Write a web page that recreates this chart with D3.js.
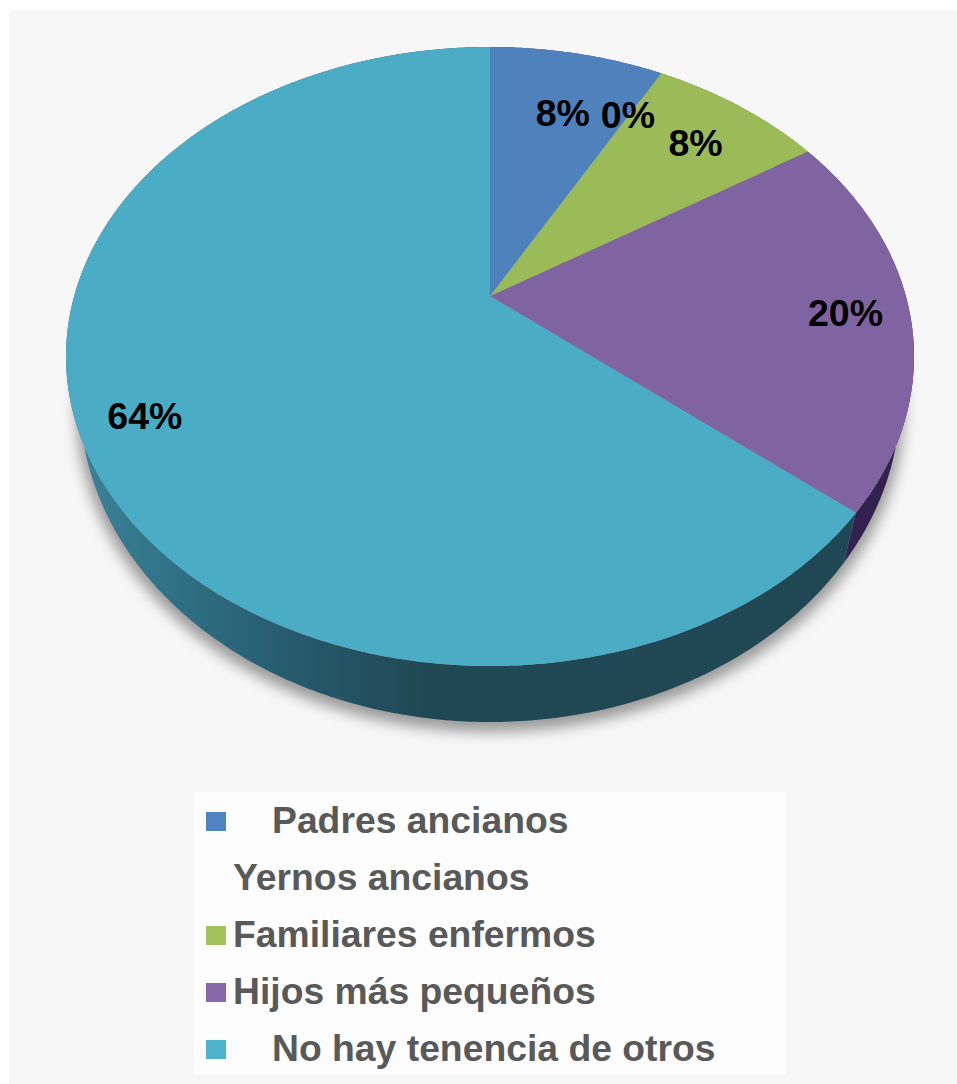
<!DOCTYPE html>
<html>
<head>
<meta charset="utf-8">
<script src="https://cdn.jsdelivr.net/npm/d3@7"></script>
<style>
  html, body { margin: 0; padding: 0; background: #fff; }
  svg { display: block; }
  text { font-family: "Liberation Sans", Arial, sans-serif; font-weight: bold; }
</style>
</head>
<body>
<div id="chart"></div>
<script>
// ---- data ----
var categories = ["Padres ancianos", "Yernos ancianos", "Familiares enfermos", "Hijos más pequeños", "No hay tenencia de otros"];
var percents = [8, 0, 8, 20, 64];

// ---- styles, one per category ----
var sliceColors = ["#4f81bd", "#c0504d", "#9bbb59", "#8064a2", "#4bacc6"];
var wallColors = ["#2c4a6e", "#6e2c2a", "#566a30", "#33214f", "url(#wallGrad)"];
var legendColors = ["#5083c4", null, "#a2c25c", "#8767a8", "#4fb2cf"];
var legendIndent = [true, false, false, false, true];
var labelReach = [0.76, 0.78, 0.8, 0.85, 0.85];
// hand placed nudges, the original labels are not quite on the radius
var labelNudgeX = [4, 0, 1, -1, -1];
var labelNudgeY = [8, -2, 2, 0, 3];

var width = 957, height = 1084;

// top face and bottom edge of the tilted pie
var top_ = { cx: 490, cy: 356.5, rx: 424, ry: 309.5 };
var bottom = { cx: 490, cy: 400, rx: 410, ry: 322 };
// the apex sits above the ellipse centre, a perspective shift
var apexShift = -0.195;

// maps a pie angle and radius (0..1) on the flat disc to the tilted ellipse
function project(e, angle, r) {
  var s = r * Math.sin(angle), t = -r * Math.cos(angle);
  var d = 1 + apexShift * t;
  var u = s * Math.sqrt(1 - apexShift * apexShift) / d;
  var v = (t + apexShift) / d;
  return [e.cx + u * e.rx, e.cy + v * e.ry];
}

function arcPoints(e, a0, a1) {
  var n = Math.max(2, Math.ceil((a1 - a0) / 0.01));
  return d3.range(n + 1).map(function(i) {
    return project(e, a0 + (a1 - a0) * i / n, 1);
  });
}

var line = d3.line();

var svg = d3.select("#chart").append("svg")
  .attr("width", width)
  .attr("height", height);

var defs = svg.append("defs");
defs.append("filter")
  .attr("id", "soft")
  .attr("x", "-10%").attr("y", "-10%").attr("width", "120%").attr("height", "120%")
  .append("feGaussianBlur").attr("stdDeviation", 7);

var grad = defs.append("linearGradient")
  .attr("id", "wallGrad")
  .attr("gradientUnits", "userSpaceOnUse")
  .attr("x1", 80).attr("x2", 900).attr("y1", 0).attr("y2", 0);
[[0, "#3a8299"], [0.12, "#2f7084"], [0.28, "#25586a"], [0.42, "#204854"], [1, "#204854"]].forEach(function(d) {
  grad.append("stop").attr("offset", d[0]).attr("stop-color", d[1]);
});

// panel behind everything
svg.append("rect")
  .attr("x", 9).attr("y", 10)
  .attr("width", width - 9).attr("height", height - 10)
  .attr("fill", "#f7f7f7");

// soft shadow under the pie
svg.append("ellipse")
  .attr("cx", bottom.cx).attr("cy", bottom.cy + 8)
  .attr("rx", bottom.rx + 4).attr("ry", bottom.ry + 2)
  .attr("fill", "#9a9a9a")
  .attr("filter", "url(#soft)");

var pie = d3.pie().sort(null).value(function(d) { return d; });
var slices = pie(percents);

// side wall first, the top face covers whatever is behind
svg.append("g").selectAll("path")
  .data(slices)
  .enter().append("path")
  .attr("d", function(d) {
    var upper = arcPoints(top_, d.startAngle, d.endAngle);
    var lower = arcPoints(bottom, d.startAngle, d.endAngle).reverse();
    return line(upper.concat(lower)) + "Z";
  })
  .attr("fill", function(d, i) { return wallColors[i]; });

var apex = project(top_, 0, 0);
svg.append("g").selectAll("path")
  .data(slices)
  .enter().append("path")
  .attr("d", function(d) {
    return line([apex].concat(arcPoints(top_, d.startAngle, d.endAngle))) + "Z";
  })
  .attr("fill", function(d, i) { return sliceColors[i]; });

// percent labels
svg.append("g").selectAll("text")
  .data(slices)
  .enter().append("text")
  .attr("transform", function(d, i) {
    var p = project(top_, (d.startAngle + d.endAngle) / 2, labelReach[i]);
    return "translate(" + (p[0] + labelNudgeX[i]) + "," + (p[1] + labelNudgeY[i]) + ")";
  })
  .attr("text-anchor", "middle")
  .attr("dy", "0.36em")
  .attr("font-size", 37.5)
  .attr("fill", "#000")
  .text(function(d) { return d.value + "%"; });

// ---- legend ----
var legendY = d3.scalePoint().domain(categories).range([833, 1061]);

svg.append("rect")
  .attr("x", 194).attr("y", 792)
  .attr("width", 592).attr("height", 283)
  .attr("fill", "#fdfdfd");

var legend = svg.append("g").selectAll("g")
  .data(categories)
  .enter().append("g")
  .attr("transform", function(d) { return "translate(0," + legendY(d) + ")"; });

legend.filter(function(d, i) { return legendColors[i] !== null; })
  .append("rect")
  .attr("x", 206).attr("y", -21)
  .attr("width", 20).attr("height", 19)
  .attr("fill", function(d) { return legendColors[categories.indexOf(d)]; });

legend.append("text")
  .attr("x", function(d, i) { return legendIndent[i] ? 272 : 233; })
  .attr("font-size", 37.3)
  .attr("fill", "#595959")
  .text(function(d) { return d; });
</script>
</body>
</html>
